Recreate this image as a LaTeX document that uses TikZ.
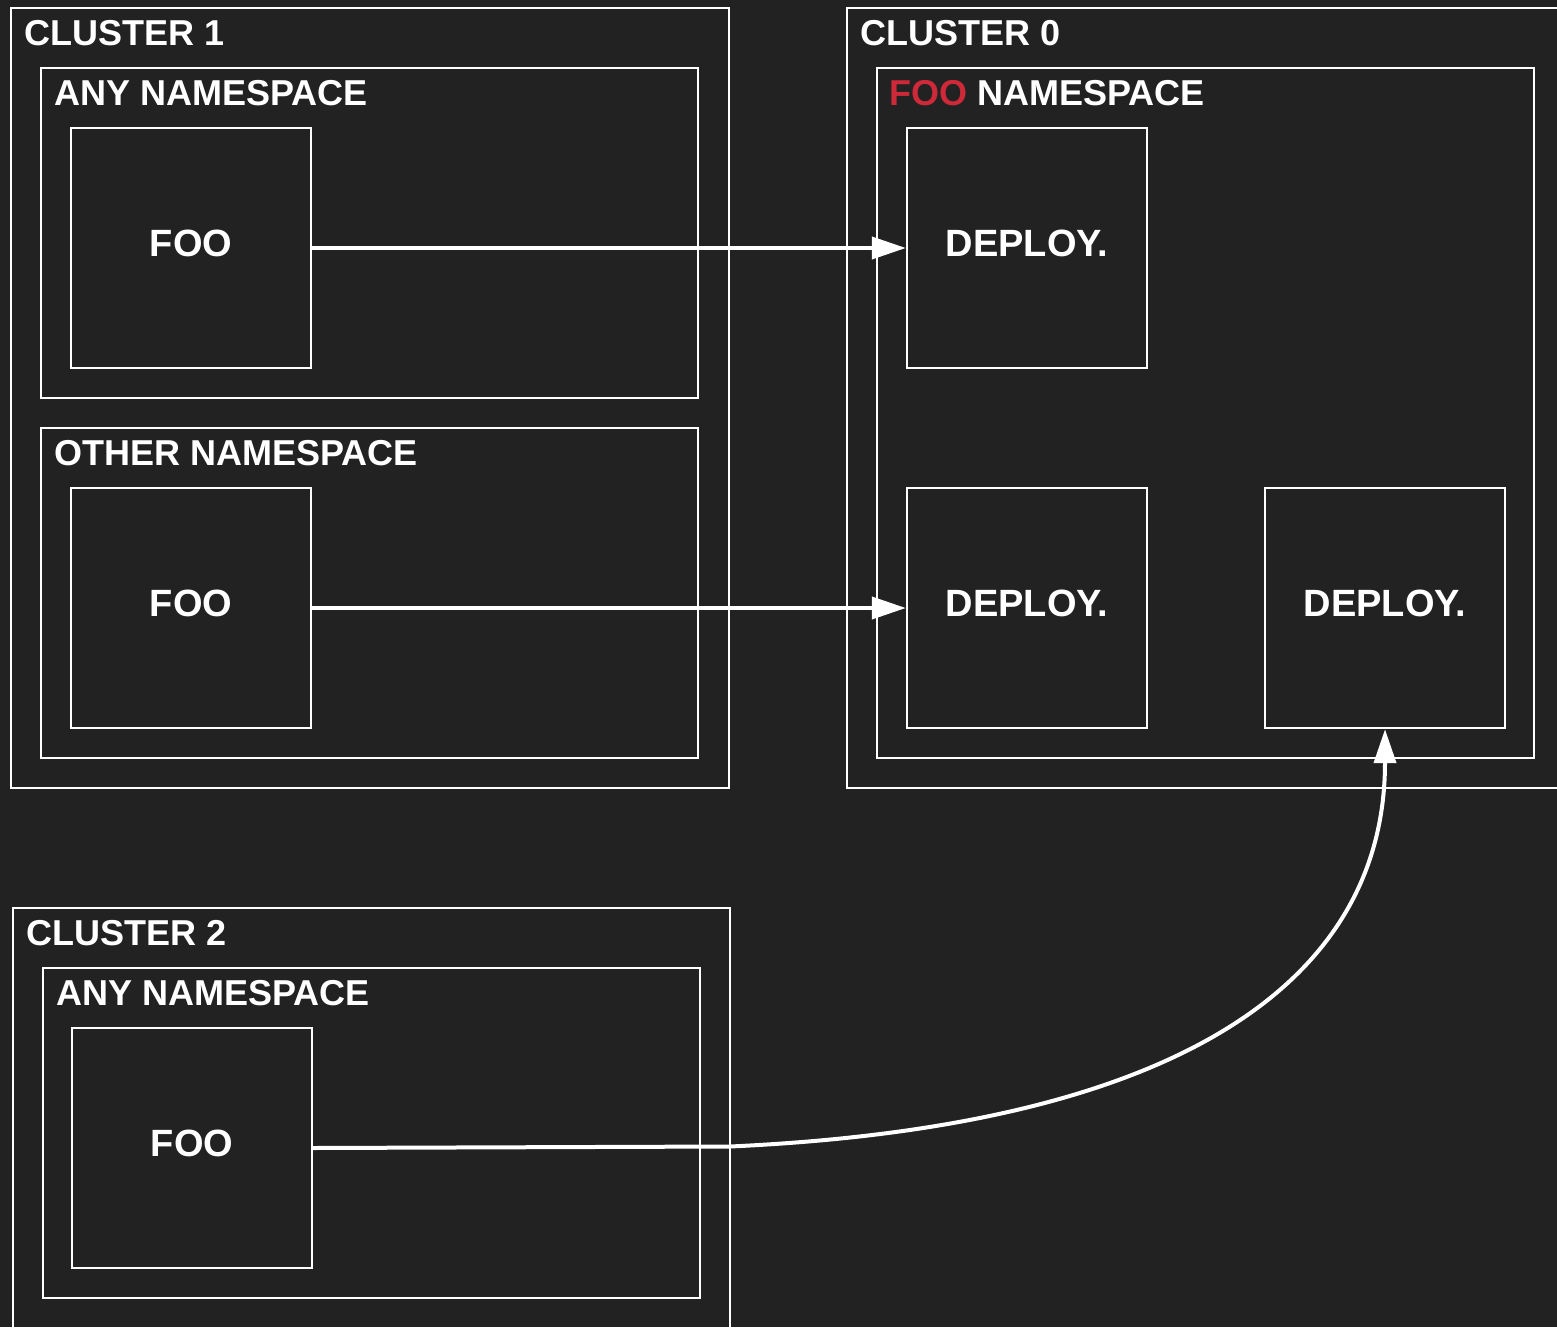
\documentclass[tikz,border=0pt]{standalone}
\usepackage{fontspec}
\setmainfont{Liberation Sans}
\usetikzlibrary{arrows.meta}
\definecolor{canvas}{RGB}{34,34,34}
\definecolor{nsred}{RGB}{205,41,57}
\begin{document}
\begin{tikzpicture}[x=0.5pt,y=-0.5pt,
  frame/.style={draw=white, line width=1.2pt},
  box/.style={draw=white, line width=1.2pt, rectangle, inner sep=0pt,
    minimum width=120pt, minimum height=120pt, text=white, text depth=5pt,
    font=\bfseries\fontsize{19}{23}\selectfont},
  title/.style={anchor=west, inner sep=0pt, text=white,
    font=\bfseries\fontsize{18}{22}\selectfont},
  conn/.style={draw=white, line width=2pt,
    -{Triangle[length=17pt,width=11pt]}}]
\clip (0,0) rectangle (1557,1327);
\fill[canvas] (0,0) rectangle (1557,1327);

% cluster 1
\draw[frame] (11,8) rectangle (729,788);
\node[title] (c1) at (24,33) {CLUSTER 1};
\draw[frame] (41,68) rectangle (698,398);
\node[title] (ns1) at (54,93) {ANY NAMESPACE};
\draw[frame] (41,428) rectangle (698,758);
\node[title] (ns2) at (54,453) {OTHER NAMESPACE};
\node[box] (foo1) at (191,248) {FOO};
\node[box] (foo2) at (191,608) {FOO};

% cluster 0
\draw[frame] (847,8) rectangle (1600,788);
\node[title] (c0) at (860,33) {CLUSTER 0};
\draw[frame] (877,68) rectangle (1534,758);
\node[title] (ns0) at (889,93) {\textcolor{nsred}{FOO} NAMESPACE};
\node[box] (dep1) at (1027,248) {DEPLOY.};
\node[box] (dep2) at (1027,608) {DEPLOY.};
\node[box] (dep3) at (1385,608) {DEPLOY.};

% cluster 2
\draw[frame] (13,908) rectangle (730,1400);
\node[title] (c2) at (26,933) {CLUSTER 2};
\draw[frame] (43,968) rectangle (700,1298);
\node[title] (ns3) at (56,993) {ANY NAMESPACE};
\node[box] (foo3) at (192,1148) {FOO};

% connectors
\coordinate (bend) at (730,1146.5);
\draw[conn] (foo1.east) -- (dep1.west);
\draw[conn] (foo2.east) -- (dep2.west);
\draw[conn] (foo3.east) -- (bend) .. controls (1200,1125) and (1385,970) .. (dep3.south);
\end{tikzpicture}
\end{document}
